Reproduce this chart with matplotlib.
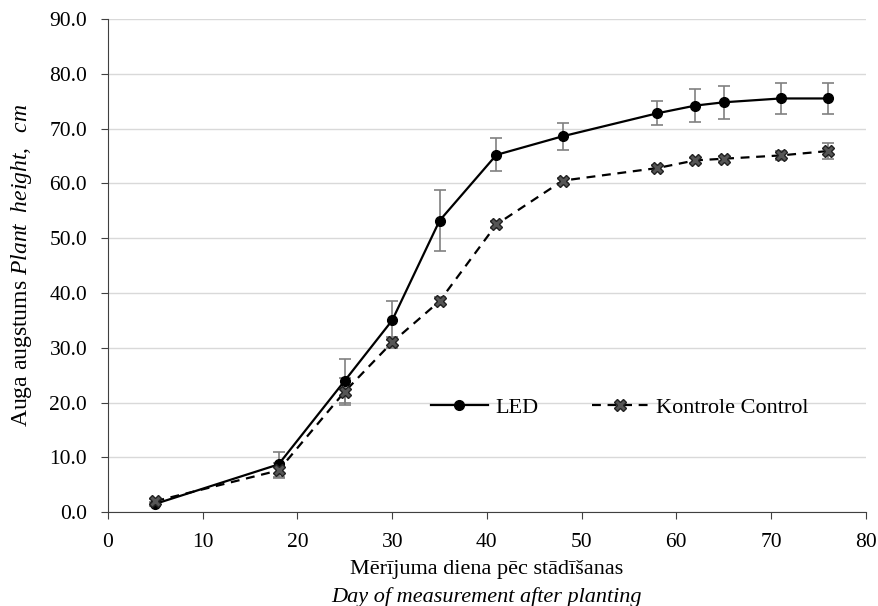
import numpy as np
import matplotlib.pyplot as plt
from matplotlib.lines import Line2D

plt.rcParams['font.family'] = ['Liberation Serif', 'DejaVu Serif']
plt.rcParams['mathtext.fontset'] = 'custom'
plt.rcParams['mathtext.rm'] = 'Liberation Serif'
plt.rcParams['mathtext.it'] = 'Liberation Serif:italic'

days = [5, 18, 25, 30, 35, 41, 48, 58, 62, 65, 71, 76]
led = [1.5, 8.7, 24.0, 35.0, 53.2, 65.2, 68.6, 72.8, 74.2, 74.8, 75.5, 75.5]
led_err = [0.4, 2.3, 4.0, 3.5, 5.5, 3.0, 2.5, 2.2, 3.0, 3.0, 2.9, 2.9]
ctrl = [2.0, 7.6, 22.0, 31.0, 38.5, 52.5, 60.5, 62.8, 64.2, 64.5, 65.1, 65.9]
ctrl_err = [0.3, 1.3, 2.5, 1.0, 0.7, 0.7, 0.4, 0.5, 0.5, 0.5, 0.8, 1.5]

fig = plt.figure(figsize=(8.79, 6.06), dpi=100)
ax = fig.add_axes([0.1229, 0.155, 0.8621, 0.8136])

led_style = dict(color='black', lw=1.6, marker='o', markersize=7)
ctrl_style = dict(color='black', lw=1.6, ls=(0, (4, 3)), marker='X', markersize=8,
                  markerfacecolor='#555555', markeredgecolor='#222222')

ax.errorbar(days, led, yerr=led_err, ecolor='#808080', elinewidth=1.2,
            capsize=4, capthick=1.2, zorder=3, **led_style)
ax.errorbar(days, ctrl, yerr=ctrl_err, ecolor='#808080', elinewidth=1.2,
            capsize=4, capthick=1.2, zorder=3, **ctrl_style)

ax.set_xlim(0, 80)
ax.set_ylim(0, 90)
ax.set_xticks(np.arange(0, 81, 10))
ax.set_yticks(np.arange(0, 91, 10))
ax.set_yticklabels([f"{v:.1f}" for v in np.arange(0, 91, 10)])
ax.grid(axis='y', color='#d9d9d9', lw=1)
ax.set_axisbelow(True)
for s in ['top', 'right']:
    ax.spines[s].set_visible(False)
for s in ['left', 'bottom']:
    ax.spines[s].set_color('#404040')
ax.tick_params(direction='out', length=5, labelsize=15.5, color='#404040', pad=10)

ax.text(0.5, -0.097, "Mērījuma diena pēc stādīšanas", transform=ax.transAxes,
        ha='center', va='top', fontsize=16)
ax.text(0.5, -0.152, "Day of measurement after planting", transform=ax.transAxes,
        ha='center', va='top', fontsize=16, style='italic')
ax.set_ylabel("Auga augstums $\\mathit{Plant\\ \\ height,\\ \\ cm}$", fontsize=17, labelpad=11)

handles = [Line2D([], [], **led_style), Line2D([], [], **ctrl_style)]
ax.legend(handles, ['LED', 'Kontrole Control'], loc='center',
          bbox_to_anchor=(0.675, 0.212), ncol=2, frameon=False, fontsize=16,
          handlelength=2.6, columnspacing=2.4, handletextpad=0.3)

fig.savefig('out.png', dpi=100)
